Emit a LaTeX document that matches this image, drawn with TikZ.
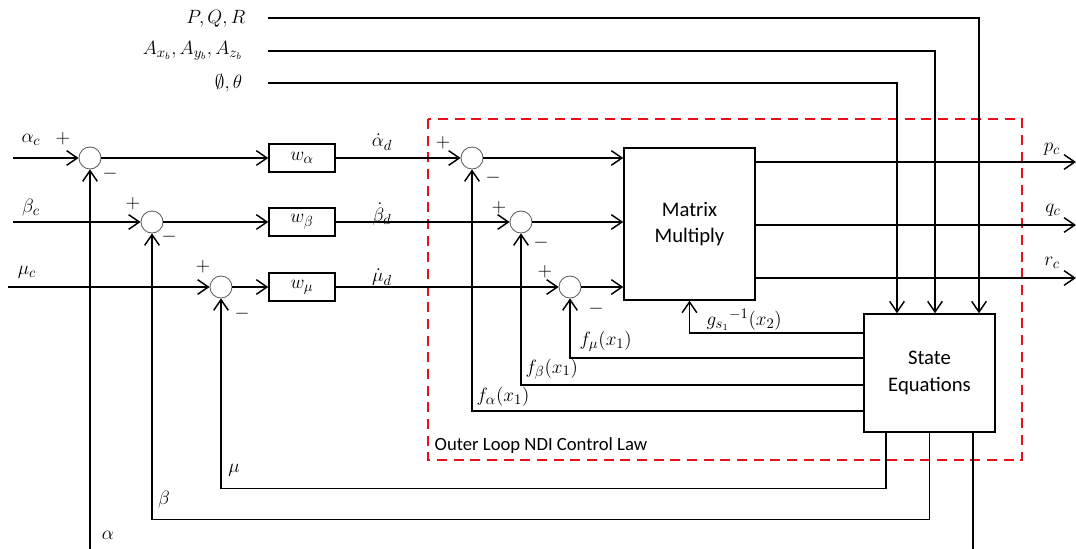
\documentclass[tikz,border=0pt]{standalone}
\usepackage{fontspec}
\setmainfont{Carlito}
\usetikzlibrary{arrows.meta,positioning,calc}
\definecolor{LoopRed}{HTML}{E8101A}

\begin{document}
\begin{tikzpicture}[x=0.75pt,y=-0.75pt,
  every node/.style={font=\fontsize{15}{17}\selectfont},
  wire/.style={line width=1.1pt},
  sig/.style={line width=1.1pt,-{Straight Barb[length=8pt,width=11pt,line width=1.1pt]}},
  sum/.style={draw=black!65,circle,minimum size=16.5pt,inner sep=0pt,line width=0.6pt},
  gain/.style={draw,line width=1.1pt,minimum width=49.5pt,minimum height=21pt,inner sep=0pt},
  blk/.style={draw,line width=1.1pt,align=center,inner sep=0pt,font=\fontsize{15.5}{20}\selectfont}
]
  \useasboundingbox (0,0) rectangle (1076,549);

  % NDI frame
  \draw[LoopRed,line width=2pt,dash pattern=on 7.5pt off 5pt] (428,119) rectangle (1022,460);
  \node[anchor=west,font=\fontsize{14}{16}\selectfont] (ndi) at (430,446) {Outer Loop NDI Control Law};

  % summing junctions and gains
  \node[sum] (sa) at (90,158) {};
  \node[sum] (sb) at (152,222) {};
  \node[sum] (sm) at (221,287) {};
  \node[gain] (wa) at (302,158) {$w_\alpha$};
  \node[gain] (wb) at (302,222) {$w_\beta$};
  \node[gain] (wm) at (302,287) {$w_\mu$};
  \node[sum] (ia) at (472,158) {};
  \node[sum] (ib) at (521,222) {};
  \node[sum] (im) at (570,287) {};
  \node[blk,minimum width=98.25pt,minimum height=114pt] (mat) at (689.5,224) {Matrix\\Multiply};
  \node[blk,minimum width=98.25pt,minimum height=88.5pt] (state) at (929.5,373) {State\\Equations};

  % signs
  \node (pa) at (63,139) {$+$};
  \node (ma) at (110,174) {$-$};
  \node (pb) at (133,204) {$+$};
  \node (mb) at (169,237) {$-$};
  \node (pm) at (203,267) {$+$};
  \node (mm) at (242,314) {$-$};
  \node (pia) at (443,143) {$+$};
  \node (mia) at (493,178) {$-$};
  \node (pib) at (499,208) {$+$};
  \node (mib) at (541,243) {$-$};
  \node (pim) at (545,272) {$+$};
  \node (mim) at (596,309) {$-$};

  % commands in
  \coordinate (ain) at (13,158);
  \coordinate (bin) at (13,222);
  \coordinate (min) at (8,287);
  \node (alc) at (31,140) {$\alpha_c$};
  \node (bec) at (31,208) {$\beta_c$};
  \node (muc) at (27,272) {$\mu_c$};
  \draw[sig] (ain) -- (sa);
  \draw[sig] (bin) -- (sb);
  \draw[sig] (min) -- (sm);
  \draw[sig] (sa) -- (wa);
  \draw[sig] (sb) -- (wb);
  \draw[sig] (sm) -- (wm);
  \draw[sig] (wa) -- (ia);
  \draw[sig] (wb) -- (ib);
  \draw[sig] (wm) -- (im);
  \node (ad) at (382,142) {$\dot{\alpha}_d$};
  \node (bd) at (382,214) {$\dot{\beta}_d$};
  \node (md) at (382,277) {$\dot{\mu}_d$};
  \draw[sig] (ia) -- (ia -| mat.west);
  \draw[sig] (ib) -- (ib -| mat.west);
  \draw[sig] (im) -- (im -| mat.west);

  % outputs
  \coordinate (pout) at (1076,162);
  \coordinate (qout) at (1076,225);
  \coordinate (rout) at (1076,278);
  \draw[sig] (pout -| mat.east) -- (pout);
  \draw[sig] (qout -| mat.east) -- (qout);
  \draw[sig] (rout -| mat.east) -- (rout);
  \node (pc) at (1052,149) {$p_c$};
  \node (qc) at (1053,210) {$q_c$};
  \node (rc) at (1052,263) {$r_c$};

  % measured states in
  \node[anchor=east] (pqr) at (250,19) {$P,Q,R$};
  \node[anchor=east] (acc) at (247,51) {$A_{x_b},A_{y_b},A_{z_b}$};
  \node[anchor=east] (att) at (247,83) {$\emptyset,\theta$};
  \coordinate (pqrin) at (268,18);
  \coordinate (accin) at (268,51);
  \coordinate (attin) at (268,83);
  \draw[sig] (pqrin) -| ($(state.north)+(49.5,0)$);
  \draw[sig] (accin) -| ($(state.north)+(5.5,0)$);
  \draw[sig] (attin) -| ($(state.north)+(-32.5,0)$);

  % inner feedback
  \draw[sig] ($(state.west)+(0,38)$) -| (ia);
  \draw[sig] ($(state.west)+(0,12)$) -| (ib);
  \draw[sig] ($(state.west)+(0,-15)$) -| (im);
  \draw[sig] ($(state.west)+(0,-40)$) -| (mat.south);
  \node[anchor=west] (fa) at (472,397) {$f_\alpha(x_1)$};
  \node[anchor=west] (fb) at (521,369) {$f_\beta(x_1)$};
  \node[anchor=west] (fm) at (575,341) {$f_\mu(x_1)$};
  \node[anchor=west] (gs) at (702,320) {${g_{s_1}}^{-1}(x_2)$};

  % outer feedback
  \draw[sig] ($(state.south)+(-43.5,0)$) -- ++(0,56) -| (sm);
  \draw[sig] (state.south) -- ++(0,87) -| (sb);
  \draw[wire] ($(state.south)+(43.5,0)$) -- ++(0,117);
  \coordinate (abot) at (90,549);
  \draw[sig] (abot) -- (sa);
  \node (mu) at (234,470) {$\mu$};
  \node (be) at (164,500) {$\beta$};
  \node (al) at (108,535) {$\alpha$};
\end{tikzpicture}
\end{document}
